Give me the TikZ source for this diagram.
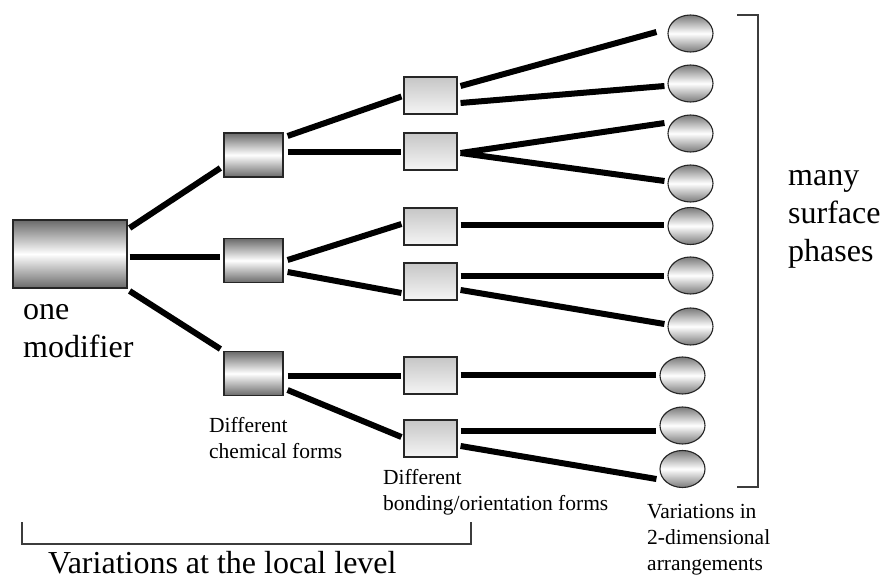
\documentclass[tikz,border=0pt]{standalone}
\usepackage{fontspec}
\setmainfont{Liberation Serif}
\usepackage{tikz}
\usetikzlibrary{shapes.geometric, positioning}
\definecolor{shadedark}{HTML}{6a6a6a}
\definecolor{shadelight}{HTML}{c6c6c6}
\definecolor{shadeoval}{HTML}{7a7a7a}
\definecolor{edgecol}{HTML}{262626}
\definecolor{brackcol}{HTML}{3c3c3c}
\tikzstyle{modbox} = [rectangle, draw=edgecol, line width=1.2pt,
  top color=shadedark, bottom color=shadedark, middle color=white,
  inner sep=0pt, minimum width=114pt, minimum height=68pt]
\tikzstyle{chembox} = [rectangle, draw=edgecol, line width=1.2pt,
  top color=shadedark, bottom color=shadedark, middle color=white,
  inner sep=0pt, minimum width=59pt, minimum height=44pt]
\tikzstyle{bondbox} = [rectangle, draw=edgecol, line width=1.1pt,
  top color=shadelight, bottom color=white!96!black,
  inner sep=0pt, minimum width=53pt, minimum height=37pt]
\tikzstyle{phase} = [ellipse, draw=edgecol, line width=1.1pt,
  top color=shadeoval, bottom color=shadeoval, middle color=white,
  inner sep=0pt, minimum width=45pt, minimum height=37pt]
\tikzstyle{biglabel} = [font=\fontsize{32}{38}\selectfont, align=left,
  inner sep=0pt, anchor=base west]
\tikzstyle{smalllabel} = [font=\fontsize{21.5}{26}\selectfont, align=left,
  inner sep=0pt, anchor=base west]
\tikzstyle{link} = [line width=6pt, color=black]
\tikzstyle{bracket} = [line width=1.6pt, color=brackcol]

\begin{document}
\begin{tikzpicture}[x=1pt, y=-1pt]

  \useasboundingbox (0,0) rectangle (884,577);

  \node[modbox] (mod) at (70,254) {};

  \node[chembox] (c1) at (253.5,155) {};
  \node[chembox] (c2) at (253.5,260.5) {};
  \node[chembox] (c3) at (253.5,373.5) {};

  \node[bondbox] (b1) at (430.5,95.5) {};
  \node[bondbox] (b2) at (430.5,151.5) {};
  \node[bondbox] (b3) at (430.5,226.5) {};
  \node[bondbox] (b4) at (430.5,281.5) {};
  \node[bondbox] (b5) at (430.5,375.5) {};
  \node[bondbox] (b6) at (430.5,438.5) {};

  \node[phase] (s1) at (690.5,33.5) {};
  \node[phase] (s2) at (690.5,83.5) {};
  \node[phase] (s3) at (690.5,133.5) {};
  \node[phase] (s4) at (690.5,183.5) {};
  \node[phase] (s5) at (690.5,226) {};
  \node[phase] (s6) at (690.5,275.5) {};
  \node[phase] (s7) at (690.5,326.5) {};
  \node[phase] (s8) at (682.5,375.5) {};
  \node[phase] (s9) at (682.5,425.5) {};
  \node[phase] (s10) at (682.5,469) {};

  % labels (base = last line)
  \node[biglabel] (modlab) at (23,358) {one\\modifier};
  \node[biglabel] (manylab) at (788,262) {many\\surface\\phases};
  \node[smalllabel] (chemlab) at (209,458) {Different\\chemical forms};
  \node[smalllabel] (bondlab) at (383,510) {Different\\bonding/orientation forms};
  \node[smalllabel] (arrlab) at (647,570) {Variations in\\2-dimensional\\arrangements};
  \node[biglabel] (locallab) at (48,573) {Variations at the local level};

  % modifier to chemical forms
  \draw[link] ([xshift=2pt,yshift=26pt]mod.east) -- ([xshift=-3pt,yshift=-13pt]c1.west);
  \draw[link] ([xshift=2pt,yshift=-3pt]mod.east) -- ([xshift=-3pt,yshift=3.5pt]c2.west);
  \draw[link] ([xshift=2pt,yshift=-37pt]mod.east) -- ([xshift=-3pt,yshift=24.5pt]c3.west);

  % chemical forms to bonding forms
  \draw[link] ([xshift=4pt,yshift=19pt]c1.east) -- ([xshift=-2pt,yshift=-1pt]b1.west);
  \draw[link] ([xshift=4pt,yshift=3pt]c1.east) -- ([xshift=-2pt,yshift=-0.5pt]b2.west);
  \draw[link] ([xshift=4pt,yshift=0.5pt]c2.east) -- ([xshift=-2pt,yshift=2.5pt]b3.west);
  \draw[link] ([xshift=4pt,yshift=-11.5pt]c2.east) -- ([xshift=-2pt,yshift=-11.5pt]b4.west);
  \draw[link] ([xshift=4pt,yshift=-2.5pt]c3.east) -- ([xshift=-2pt,yshift=-0.5pt]b5.west);
  \draw[link] ([xshift=4pt,yshift=-16.5pt]c3.east) -- ([xshift=-2pt,yshift=1.5pt]b6.west);

  % bonding forms to surface phases
  \draw[link] ([xshift=3pt,yshift=9.5pt]b1.east) -- ([xshift=-11pt,yshift=1.5pt]s1.west);
  \draw[link] ([xshift=3pt,yshift=-7.5pt]b1.east) -- ([xshift=-3pt,yshift=-2.5pt]s2.west);
  \draw[link] ([xshift=3pt,yshift=-1.5pt]b2.east) -- ([xshift=-3pt,yshift=10.5pt]s3.west);
  \draw[link] ([xshift=3pt,yshift=-1.5pt]b2.east) -- ([xshift=-3pt,yshift=2.5pt]s4.west);
  \draw[link] ([xshift=3pt,yshift=1.5pt]b3.east) -- ([xshift=-3pt,yshift=1pt]s5.west);
  \draw[link] ([xshift=3pt,yshift=5.5pt]b4.east) -- ([xshift=-3pt,yshift=-0.5pt]s6.west);
  \draw[link] ([xshift=3pt,yshift=-8.5pt]b4.east) -- ([xshift=-3pt,yshift=2.5pt]s7.west);
  \draw[link] ([xshift=3pt,yshift=0.5pt]b5.east) -- ([xshift=-3pt,yshift=0.5pt]s8.west);
  \draw[link] ([xshift=3pt,yshift=7.5pt]b6.east) -- ([xshift=-3pt,yshift=-5.5pt]s9.west);
  \draw[link] ([xshift=3pt,yshift=-7.5pt]b6.east) -- ([xshift=-3pt,yshift=-10pt]s10.west);

  % brackets
  \draw[bracket] (737,15) -| (758,487) -- (737,487);
  \draw[bracket] (22,522) |- (471,544) -- (471,522);

\end{tikzpicture}
\end{document}
